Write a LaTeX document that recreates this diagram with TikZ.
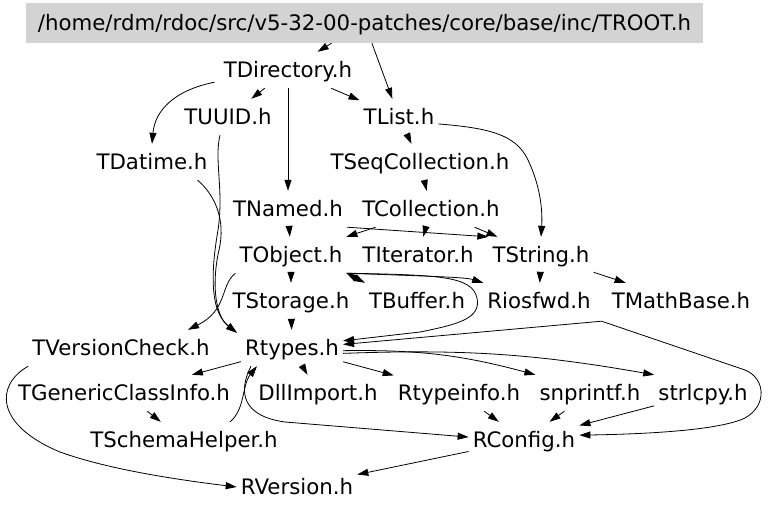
\documentclass[tikz,border=0pt]{standalone}
\usepackage{fontspec}
\setmainfont{DejaVu Sans}
\usetikzlibrary{arrows.meta}
\definecolor{rootgray}{RGB}{211,211,211}
\tikzset{
  deptip/.tip={Triangle[length=11pt,width=7pt]},
  file/.style={inner xsep=4pt, inner ysep=0pt, minimum height=36pt,
    text height=15pt, text depth=0pt, font=\fontsize{21.3}{25}\selectfont},
  rootfile/.style={file, fill=rootgray, minimum width=677pt, minimum height=40pt},
  dep/.style={-deptip, line width=0.8pt},
}

\begin{document}
\begin{tikzpicture}[x=1pt, y=-1pt]
        \useasboundingbox (0,0) rectangle (768,511);
        % files
        \node[rootfile] (troot) at (364.5,23) {/home/rdm/rdoc/src/v5-32-00-patches/core/base/inc/TROOT.h};
        \node[file] (tdir) at (288,70) {TDirectory.h};
        \node[file] (tuuid) at (228,117) {TUUID.h};
        \node[file] (tlist) at (399,117) {TList.h};
        \node[file] (tdatime) at (152,162) {TDatime.h};
        \node[file] (tseqcoll) at (420,162) {TSeqCollection.h};
        \node[file] (tnamed) at (288,209) {TNamed.h};
        \node[file] (tcoll) at (431,209) {TCollection.h};
        \node[file] (tobject) at (291,255) {TObject.h};
        \node[file] (titer) at (418,255) {TIterator.h};
        \node[file] (tstring) at (541,255) {TString.h};
        \node[file] (tstorage) at (291,301) {TStorage.h};
        \node[file] (tbuffer) at (417,301) {TBuffer.h};
        \node[file] (riosfwd) at (539,301) {Riosfwd.h};
        \node[file] (tmathbase) at (681,301) {TMathBase.h};
        \node[file] (tvercheck) at (121,348) {TVersionCheck.h};
        \node[file] (rtypes) at (292,348) {Rtypes.h};
        \node[file] (tgenclass) at (124,393) {TGenericClassInfo.h};
        \node[file] (dllimport) at (318,393) {DllImport.h};
        \node[file] (rtypeinfo) at (459,393) {Rtypeinfo.h};
        \node[file] (snprintf) at (590,393) {snprintf.h};
        \node[file] (strlcpy) at (703,393) {strlcpy.h};
        \node[file] (tschema) at (184,440) {TSchemaHelper.h};
        \node[file] (rconfig) at (524,440) {RConfig.h};
        \node[file] (rversion) at (297,487) {RVersion.h};

        % includes
        \draw[dep] (troot) -- (tdir);
        \draw[dep] (troot) -- (tlist);
        \draw[dep] (tdir) -- (tuuid);
        \draw[dep] (tdir) -- (tlist);
        \draw[dep] ([xshift=-5pt,yshift=6pt]tdir.south west) .. controls (175,90) and (155,110) .. (tdatime.north);
        \draw[dep] (tdir) -- (tnamed);
        \draw[dep] ([xshift=-8pt]tuuid.south) .. controls (214,160) and (224,190) .. (218,230)
            .. controls (212,265) and (208,310) .. ([xshift=-4pt,yshift=-3pt]rtypes.north west);
        \draw[dep] ([xshift=-14pt]tdatime.south east) .. controls (215,195) and (226,220) .. (219,250)
            .. controls (212,280) and (214,315) .. ([xshift=-4pt,yshift=-3pt]rtypes.north west);
        \draw[dep] (tlist) -- (tseqcoll);
        \draw[dep] (tlist.-10) .. controls (490,128) and (515,135) .. (527,158)
            .. controls (538,180) and (543,205) .. (tstring.north);
        \draw[dep] (tseqcoll) -- (tcoll);
        \draw[dep] (tnamed) -- (tobject);
        \draw[dep] (tnamed.south east) -- (tstring.north west);
        \draw[dep] (tcoll) -- (tobject);
        \draw[dep] (tcoll) -- (titer);
        \draw[dep] (tcoll) -- (tstring);
        \draw[dep] (tobject) -- (tstorage);
        \draw[dep, deptip-deptip] (tobject.south east) -- (tbuffer.north west);
        \draw[dep] (tobject.south east) .. controls (420,276) and (465,277) .. (riosfwd.north west);
        \draw[dep] (tobject.south east) .. controls (440,275) and (472,276) .. (477,298)
            .. controls (481,318) and (460,324) .. (420,332) -- (rtypes.8);
        \draw[dep] (tobject.south west) .. controls (220,285) and (228,310) .. ([xshift=67pt]tvercheck.north);
        \draw[dep] (tstorage) -- (rtypes);
        \draw[dep] (tstring) -- (riosfwd);
        \draw[dep] (tstring) -- (tmathbase);
        \draw[dep] ([xshift=-6pt,yshift=-2pt]tmathbase.south west) -- (rtypes.4);
        \draw[dep] ([xshift=-6pt,yshift=-2pt]tmathbase.south west) -- (745,370)
            .. controls (765,378) and (768,405) .. (745,418)
            .. controls (720,430) and (650,434) .. (rconfig.5);
        \draw[dep] (tvercheck.south west) .. controls (-5,385) and (-5,425) .. (60,452)
            .. controls (110,470) and (180,480) .. (rversion.west);
        \draw[dep] (rtypes) -- (tgenclass);
        \draw[dep] (rtypes) -- (dllimport);
        \draw[dep] (rtypes) -- (rtypeinfo);
        \draw[dep] (rtypes.-3) to[bend left=8] (snprintf.north west);
        \draw[dep] (rtypes.-6) to[bend left=6] (strlcpy.north west);
        \draw[dep] ([xshift=10pt]rtypes.south west) .. controls (238,392) and (242,416) .. (285,422) -- (rconfig.177);
        \draw[dep] ([xshift=46pt]tschema.north) .. controls (245,410) and (242,385) .. ([xshift=16pt]rtypes.south west);
        \draw[dep] (tgenclass) -- (tschema);
        \draw[dep] (rtypeinfo) -- (rconfig);
        \draw[dep] (snprintf) -- (rconfig);
        \draw[dep] (strlcpy) -- (rconfig);
        \draw[dep] (rconfig) -- (rversion);
\end{tikzpicture}
\end{document}
